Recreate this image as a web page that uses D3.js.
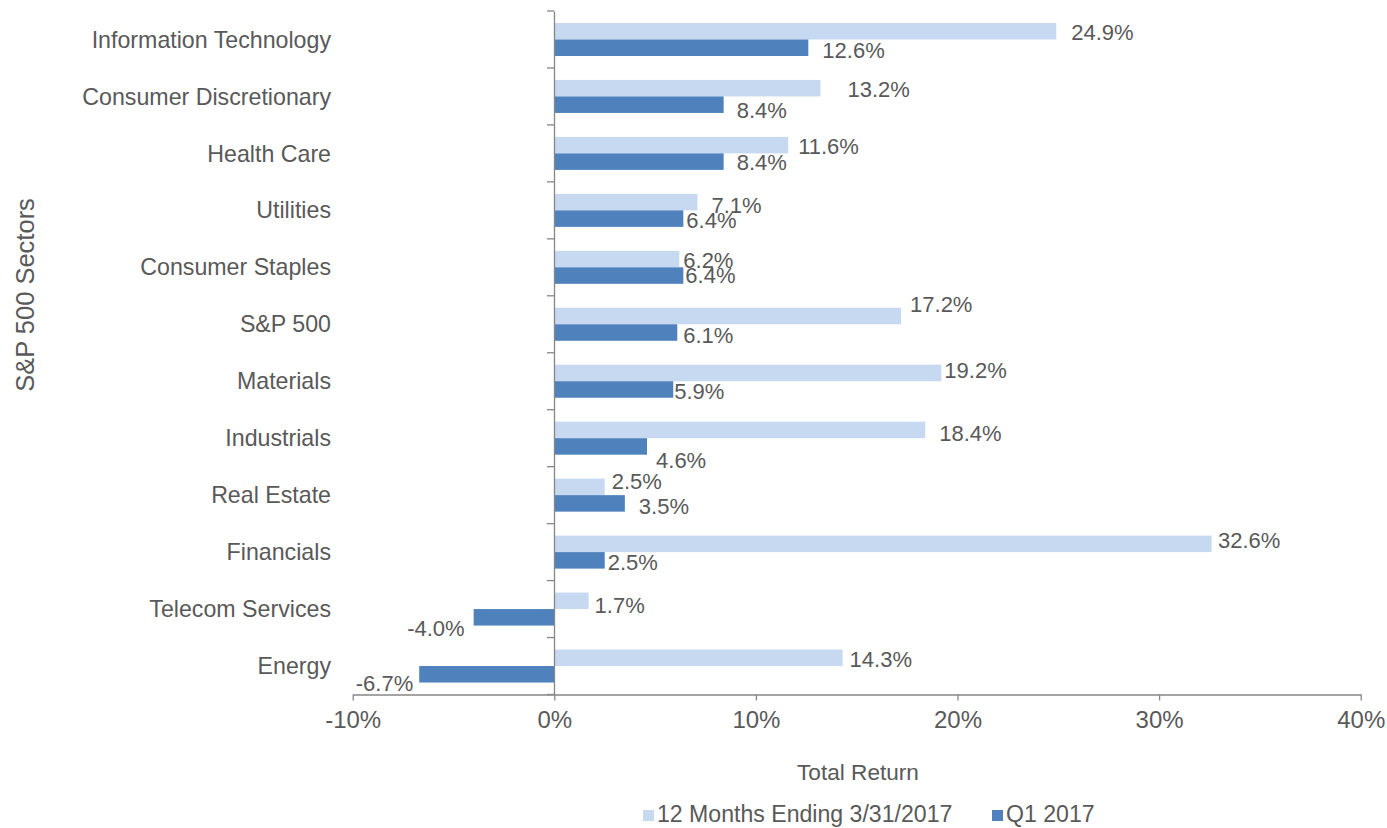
<!DOCTYPE html>
<html>
<head>
<meta charset="utf-8">
<script src="https://cdn.jsdelivr.net/npm/d3@7"></script>
<style>
  html, body { margin: 0; padding: 0; background: #fff; }
  svg text { font-family: "Liberation Sans", Arial, sans-serif; fill: #595959; }
</style>
</head>
<body>
<svg id="chart" width="1387" height="828"></svg>
<script>
// ---- data ----
const categories = ["Information Technology", "Consumer Discretionary", "Health Care", "Utilities",
  "Consumer Staples", "S&P 500 ", "Materials", "Industrials", "Real Estate", "Financials",
  "Telecom Services", "Energy"];
const seriesNames = ["12 Months Ending 3/31/2017", "Q1 2017"];
const twelveMonths = [24.9, 13.2, 11.6, 7.1, 6.2, 17.2, 19.2, 18.4, 2.5, 32.6, 1.7, 14.3];
const q1 = [12.6, 8.4, 8.4, 6.4, 6.4, 6.1, 5.9, 4.6, 3.5, 2.5, -4.0, -6.7];
const xTicks = [-10, 0, 10, 20, 30, 40];

// ---- style: label nudges [dx, dy] per bar (manual label placement in the original) ----
const nudge12 = [[15,1],[27,1],[10,1],[14,3],[4,1],[9,-12],[3,-2.5],[14,3],[7,-5.5],[6.5,-4],[6,4],[7,1.5]];
const nudgeQ1 = [[14,3],[13,6],[13,1],[3,1.5],[2,0],[6,3],[1,2],[9,14],[14,2.5],[3,2],[9,11],[6,9]];

const colors = ["#C6D9F1", "#4F81BD"];
const axisColor = "#868686";
const valueFont = 22, catFont = 23.2, tickFont = 24, titleFont = 22.6, yTitleFont = 25.5, legendFont = 23.1;

const svg = d3.select("#chart");
const mLeft = 554, mRight = 1360.7, mTop = 11, mBottom = 694.5;
const x = d3.scaleLinear().domain([-10, 40]).range([352.7, mRight]);
const y = d3.scaleBand().domain(categories).range([mTop, mBottom]).padding(0);
const barH = 16.5;
const ySub = d3.scaleBand().domain(seriesNames).range([-barH, barH]).padding(0);

const series = [twelveMonths, q1];
const nudges = [nudge12, nudgeQ1];

// bars
series.forEach((vals, si) => {
  svg.append("g").selectAll("rect").data(vals).join("rect")
    .attr("x", d => x(Math.min(0, d)))
    .attr("width", d => Math.abs(x(d) - x(0)))
    .attr("y", (d, i) => y(categories[i]) + y.bandwidth() / 2 + ySub(seriesNames[si]))
    .attr("height", ySub.bandwidth())
    .attr("fill", colors[si]);
});

// value labels
series.forEach((vals, si) => {
  svg.append("g").selectAll("text").data(vals).join("text")
    .attr("x", (d, i) => d >= 0 ? x(d) + nudges[si][i][0] : x(d) - nudges[si][i][0])
    .attr("y", (d, i) => y(categories[i]) + y.bandwidth() / 2 + ySub(seriesNames[si]) + ySub.bandwidth() / 2 + nudges[si][i][1])
    .attr("dy", "0.35em")
    .attr("text-anchor", d => d >= 0 ? "start" : "end")
    .style("font-size", valueFont + "px")
    .text(d => d.toFixed(1) + "%");
});

// y axis
const yAxis = svg.append("g").attr("transform", `translate(${mLeft},0)`)
  .call(d3.axisLeft(y).tickSize(0).tickPadding(0).tickFormat(""));
yAxis.select(".domain").attr("stroke", axisColor).attr("stroke-width", 1.3);
yAxis.selectAll(".tick").remove();
const boundaries = categories.map(c => y(c)).concat([y(categories[categories.length - 1]) + y.bandwidth()]);
yAxis.selectAll("line.bt").data(boundaries).join("line").attr("class", "bt")
  .attr("x1", -7).attr("x2", 0).attr("y1", d => d).attr("y2", d => d)
  .attr("stroke", axisColor).attr("stroke-width", 1.3);

// category labels
svg.append("g").selectAll("text").data(categories).join("text")
  .attr("x", 331).attr("y", d => y(d) + y.bandwidth() / 2)
  .attr("dy", "0.35em").attr("text-anchor", "end")
  .style("font-size", catFont + "px")
  .text(d => d);

// x axis
const xAxis = svg.append("g").attr("transform", `translate(0,${mBottom})`)
  .call(d3.axisBottom(x).tickValues(xTicks).tickSize(6).tickSizeOuter(0).tickPadding(10)
    .tickFormat(d => d + "%"));
xAxis.select(".domain").attr("stroke", axisColor).attr("stroke-width", 1.3);
xAxis.selectAll(".tick line").attr("stroke", axisColor).attr("stroke-width", 1.3);
xAxis.selectAll(".tick text")
  .style("font-size", tickFont + "px").style("font-family", '"Liberation Sans", Arial, sans-serif')
  .attr("fill", "#595959");

// axis titles
svg.append("text").attr("x", 858).attr("y", 772).attr("dy", "0.35em").attr("text-anchor", "middle")
  .style("font-size", titleFont + "px").text("Total Return");
svg.append("text").attr("transform", "translate(34,295) rotate(-90)").attr("text-anchor", "middle")
  .style("font-size", yTitleFont + "px").text("S&P 500 Sectors");

// legend
const legendPos = [643, 992];
const lg = svg.append("g");
seriesNames.forEach((name, i) => {
  lg.append("rect").attr("x", legendPos[i]).attr("y", 810).attr("width", 11).attr("height", 11).attr("fill", colors[i]);
  lg.append("text").attr("x", legendPos[i] + 14).attr("y", 814).attr("dy", "0.35em")
    .style("font-size", legendFont + "px").text(name);
});
</script>
</body>
</html>
